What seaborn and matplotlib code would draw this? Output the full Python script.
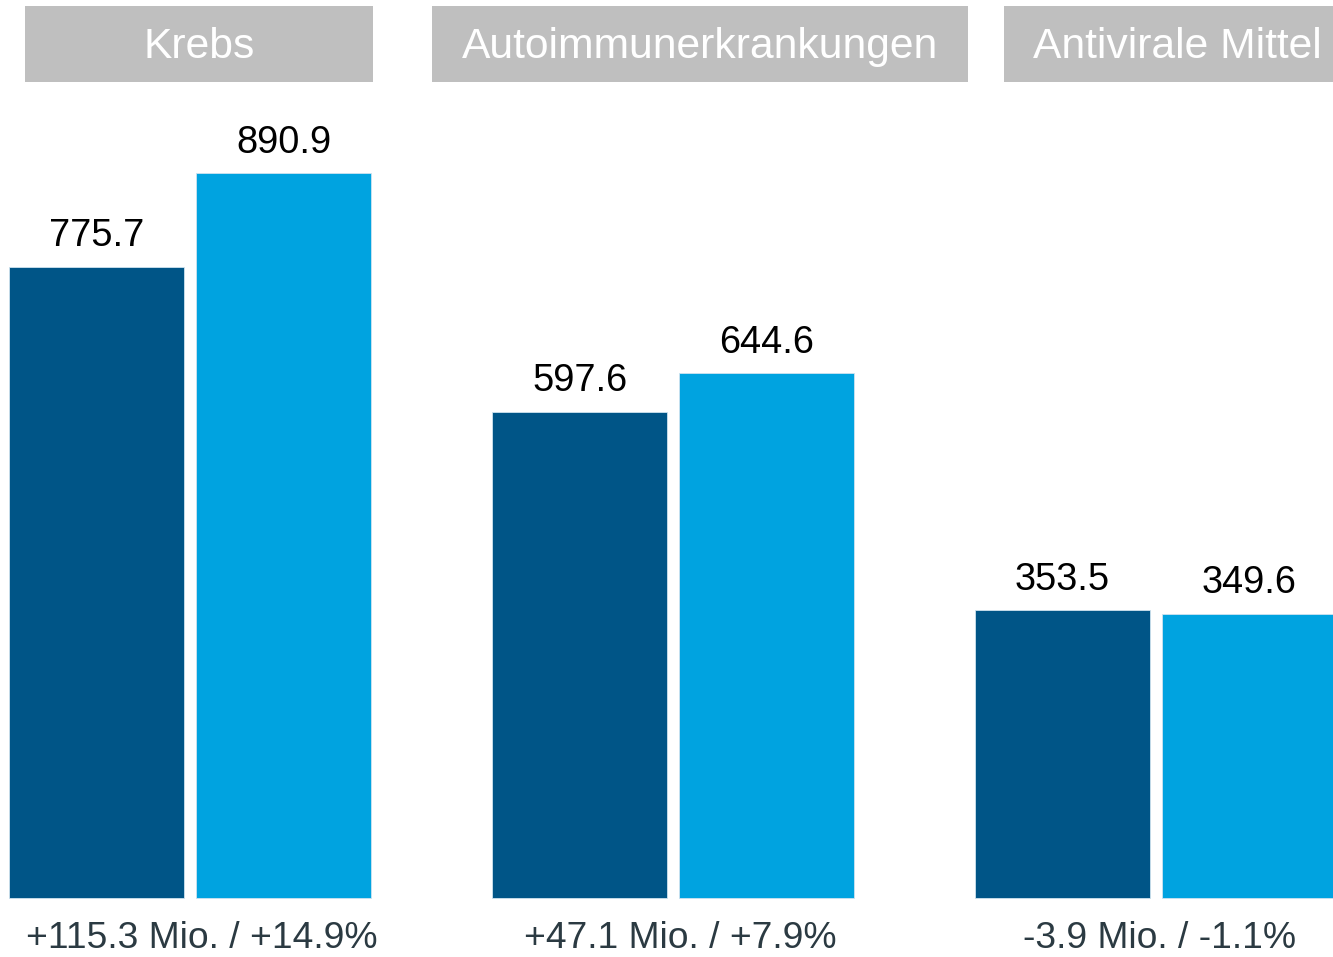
import matplotlib
matplotlib.use("Agg")
import matplotlib.pyplot as plt
from matplotlib.patches import Rectangle
import seaborn as sns
import pandas as pd

categories = ["Krebs", "Autoimmunerkrankungen", "Antivirale Mittel"]
series_names = ["Vorjahr", "Aktuell"]
values_prev = [775.7, 597.6, 353.5]
values_curr = [890.9, 644.6, 349.6]
change_labels = ["+115.3 Mio. / +14.9%", "+47.1 Mio. / +7.9%", "-3.9 Mio. / -1.1%"]

colors = ["#005587", "#00A3E0"]

df = pd.DataFrame({
    "Kategorie": categories * 2,
    "Serie": [series_names[0]] * 3 + [series_names[1]] * 3,
    "Wert": values_prev + values_curr,
})

sns.set_theme(style="white")
plt.rcParams["font.family"] = ["Liberation Sans", "DejaVu Sans"]

fig = plt.figure(figsize=(13.33, 9.57), dpi=100)
ax = fig.add_axes([0, 0, 1, 1])

sns.barplot(data=df, x="Kategorie", y="Wert", hue="Serie", order=categories,
            hue_order=series_names, palette=colors, width=0.7743, gap=0.068,
            saturation=1, edgecolor="#cfe3ef", linewidth=0.6, legend=False, ax=ax)

ax.set_xlim(-0.3934, 2.3665)
ax.set_ylim(-72.5, 1103.5)
ax.axis("off")

for cont in ax.containers:
    ax.bar_label(cont, fmt="%.1f", padding=9, fontsize=27.4, color="#000000")

# category header boxes (figure pixel spans; the last one runs off the edge)
W, H = 1333, 957
header_spans = [(25, 373), (432, 968), (1004, 1350)]
for (x0, x1), name in zip(header_spans, categories):
    fig.patches.append(Rectangle((x0 / W, 1 - 82 / H), (x1 - x0) / W, 76 / H,
                                 transform=fig.transFigure, facecolor="#BFBFBF",
                                 edgecolor="none", zorder=1))
    fig.text((x0 + x1) / 2 / W, 1 - 47 / H, name, ha="center", va="center",
             color="white", fontsize=30.7, zorder=2)

# change labels below the bars
label_nudge = [0.024, 0.016, 0.008]
for i, lab in enumerate(change_labels):
    ax.text(i + label_nudge[i], -62.0, lab, ha="center", va="baseline",
            fontsize=26.8, color="#2B3A42")

fig.savefig("out.png", dpi=100)
